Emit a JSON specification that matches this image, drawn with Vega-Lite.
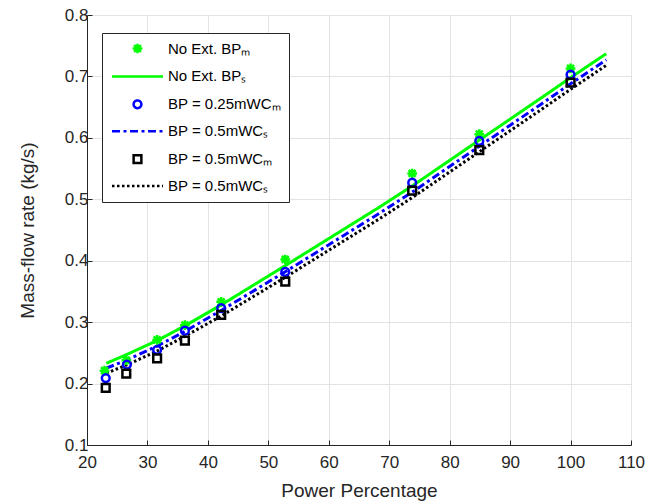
{
  "$schema": "https://vega.github.io/schema/vega-lite/v6.json",
  "width": 544,
  "height": 430,
  "autosize": {"type": "none"},
  "padding": {"left": 87, "top": 15, "right": 31, "bottom": 57},
  "background": "white",
  "config": {
    "font": "Liberation Sans",
    "view": {"stroke": null},
    "axis": {
      "domainColor": "#262626",
      "domainWidth": 1,
      "tickColor": "#262626",
      "tickSize": -5,
      "labelColor": "#262626",
      "titleColor": "#262626",
      "labelFont": "Liberation Sans",
      "titleFont": "Liberation Sans",
      "labelFontSize": 17,
      "titleFontSize": 19,
      "titleFontWeight": "normal",
      "labelFlush": false,
      "gridColor": "#e3e3e3",
      "gridWidth": 1
    }
  },
  "datasets": {
    "measured": [
      {"series": "s1", "power": 22.9, "flow": 0.221},
      {"series": "s1", "power": 26.5, "flow": 0.238},
      {"series": "s1", "power": 31.6, "flow": 0.271},
      {"series": "s1", "power": 36.2, "flow": 0.295},
      {"series": "s1", "power": 42.2, "flow": 0.333},
      {"series": "s1", "power": 52.8, "flow": 0.402},
      {"series": "s1", "power": 73.8, "flow": 0.542},
      {"series": "s1", "power": 84.9, "flow": 0.606},
      {"series": "s1", "power": 100, "flow": 0.713},
      {"series": "s3", "power": 23.1, "flow": 0.209},
      {"series": "s3", "power": 26.6, "flow": 0.231},
      {"series": "s3", "power": 31.6, "flow": 0.255},
      {"series": "s3", "power": 36.2, "flow": 0.286},
      {"series": "s3", "power": 42.2, "flow": 0.323},
      {"series": "s3", "power": 52.8, "flow": 0.382},
      {"series": "s3", "power": 73.8, "flow": 0.527},
      {"series": "s3", "power": 84.9, "flow": 0.595},
      {"series": "s3", "power": 100, "flow": 0.703},
      {"series": "s5", "power": 23.1, "flow": 0.193},
      {"series": "s5", "power": 26.5, "flow": 0.216},
      {"series": "s5", "power": 31.6, "flow": 0.241},
      {"series": "s5", "power": 36.2, "flow": 0.270},
      {"series": "s5", "power": 42.2, "flow": 0.312},
      {"series": "s5", "power": 52.8, "flow": 0.366},
      {"series": "s5", "power": 73.8, "flow": 0.514},
      {"series": "s5", "power": 84.9, "flow": 0.580},
      {"series": "s5", "power": 100, "flow": 0.690}
    ],
    "simulated": [
      {"series": "s2", "power": 23.2, "flow": 0.233},
      {"series": "s2", "power": 26.5, "flow": 0.247},
      {"series": "s2", "power": 31.6, "flow": 0.270},
      {"series": "s2", "power": 36.2, "flow": 0.294},
      {"series": "s2", "power": 42.2, "flow": 0.328},
      {"series": "s2", "power": 52.8, "flow": 0.392},
      {"series": "s2", "power": 68.5, "flow": 0.488},
      {"series": "s2", "power": 74, "flow": 0.523},
      {"series": "s2", "power": 85, "flow": 0.597},
      {"series": "s2", "power": 95, "flow": 0.664},
      {"series": "s2", "power": 100, "flow": 0.698},
      {"series": "s2", "power": 105.9, "flow": 0.737},
      {"series": "s4", "power": 23.2, "flow": 0.225},
      {"series": "s4", "power": 26.5, "flow": 0.238},
      {"series": "s4", "power": 31.6, "flow": 0.261},
      {"series": "s4", "power": 36.2, "flow": 0.285},
      {"series": "s4", "power": 42.2, "flow": 0.319},
      {"series": "s4", "power": 52.8, "flow": 0.382},
      {"series": "s4", "power": 68.5, "flow": 0.478},
      {"series": "s4", "power": 74, "flow": 0.513},
      {"series": "s4", "power": 85, "flow": 0.587},
      {"series": "s4", "power": 95, "flow": 0.654},
      {"series": "s4", "power": 100, "flow": 0.688},
      {"series": "s4", "power": 105.9, "flow": 0.727},
      {"series": "s6", "power": 23.2, "flow": 0.217},
      {"series": "s6", "power": 26.5, "flow": 0.230},
      {"series": "s6", "power": 31.6, "flow": 0.253},
      {"series": "s6", "power": 36.2, "flow": 0.277},
      {"series": "s6", "power": 42.2, "flow": 0.310},
      {"series": "s6", "power": 52.8, "flow": 0.373},
      {"series": "s6", "power": 68.5, "flow": 0.469},
      {"series": "s6", "power": 74, "flow": 0.504},
      {"series": "s6", "power": 85, "flow": 0.578},
      {"series": "s6", "power": 95, "flow": 0.645},
      {"series": "s6", "power": 100, "flow": 0.679},
      {"series": "s6", "power": 105.9, "flow": 0.718}
    ]
  },
  "encoding": {
    "x": {
      "field": "power",
      "type": "quantitative",
      "scale": {"domain": [20, 110], "nice": false, "zero": false},
      "axis": {
        "title": "Power Percentage",
        "values": [20, 30, 40, 50, 60, 70, 80, 90, 100, 110],
        "labelPadding": 14,
        "titlePadding": 11
      }
    },
    "y": {
      "field": "flow",
      "type": "quantitative",
      "scale": {"domain": [0.1, 0.8], "nice": false, "zero": false},
      "axis": {
        "title": "Mass-flow rate (kg/s)",
        "values": [0.1, 0.2, 0.3, 0.4, 0.5, 0.6, 0.7, 0.8],
        "format": ".1f",
        "labelPadding": 4,
        "titlePadding": 27
      }
    },
    "color": {
      "field": "series",
      "type": "nominal",
      "scale": {
        "domain": ["s1", "s2", "s3", "s4", "s5", "s6"],
        "range": ["#00ff00", "#00ff00", "#0000ff", "#0000ff", "#000000", "#000000"]
      },
      "legend": {
        "title": null,
        "orient": "none",
        "direction": "vertical",
        "legendX": 15,
        "legendY": 18,
        "fillColor": "white",
        "strokeColor": "#262626",
        "padding": 8,
        "rowPadding": 9.9,
        "symbolSize": 100,
        "symbolStrokeWidth": 2.5,
        "labelFont": "Liberation Sans",
        "labelFontSize": 15,
        "labelColor": "#000000",
        "labelExpr": "datum.value == 's1' ? 'No Ext. BPₘ' : datum.value == 's2' ? 'No Ext. BPₛ' : datum.value == 's3' ? 'BP = 0.25mWCₘ' : datum.value == 's5' ? 'BP = 0.5mWCₘ' : 'BP = 0.5mWCₛ'",
        "encode": {
          "symbols": {
            "update": {
              "x": {"value": 27.5},
              "size": {"signal": "indexof(['s2', 's4', 's6'], datum.value) >= 0 ? 2601 : 60"}
            }
          },
          "labels": {"update": {"x": {"value": 58}}}
        }
      }
    }
  },
  "layer": [
    {
      "data": {"name": "simulated"},
      "mark": {"type": "line", "strokeWidth": 3, "strokeCap": "butt"},
      "encoding": {
        "strokeDash": {
          "field": "series",
          "type": "nominal",
          "scale": {
            "domain": ["s1", "s2", "s3", "s4", "s5", "s6"],
            "range": [[1, 0], [1, 0], [1, 0], [8, 3.5, 3, 3.5], [1, 0], [2.5, 2.5]]
          }
        }
      }
    },
    {
      "data": {"name": "measured"},
      "mark": {"type": "point", "filled": false, "strokeWidth": 2.5, "opacity": 1, "size": 60},
      "encoding": {
        "shape": {
          "field": "series",
          "type": "nominal",
          "scale": {
            "domain": ["s1", "s2", "s3", "s4", "s5", "s6"],
            "range": ["M-1.25,0L1.25,0M0,-1.25L0,1.25M-0.9,-0.9L0.9,0.9M-0.9,0.9L0.9,-0.9", "stroke", "circle", "stroke", "square", "stroke"]
          }
        }
      }
    }
  ]
}
